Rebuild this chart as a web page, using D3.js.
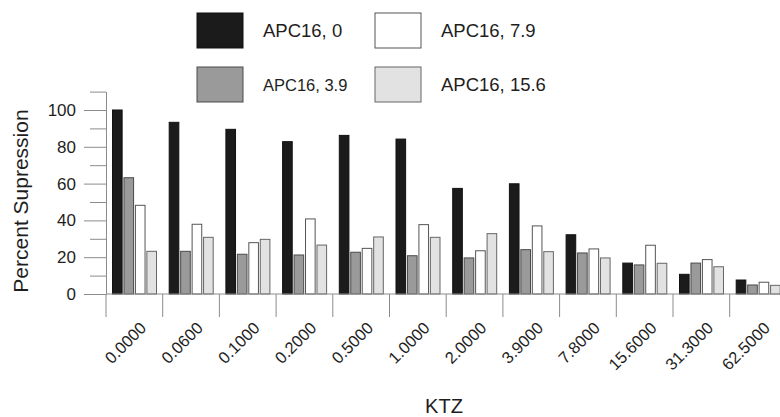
<!DOCTYPE html>
<html>
<head>
<meta charset="utf-8">
<script src="https://cdn.jsdelivr.net/npm/d3@7"></script>
<style>
  body { margin: 0; background: #fff; }
  svg { display: block; font-family: Arial, "Liberation Sans", sans-serif; }
</style>
</head>
<body>
<script>
// data
var categories = ["0.0000", "0.0600", "0.1000", "0.2000", "0.5000", "1.0000",
                  "2.0000", "3.9000", "7.8000", "15.6000", "31.3000", "62.5000"];
var seriesNames = ["APC16, 0", "APC16, 3.9", "APC16, 7.9", "APC16, 15.6"];
var apc0   = [100, 93.3, 89.5, 82.8, 86.2, 84.2, 57.4, 59.9, 32.2, 16.8, 10.7, 7.6];
var apc3_9 = [63.2, 23.2, 21.6, 21.2, 22.7, 20.8, 19.6, 24.1, 22.3, 15.8, 16.8, 4.9];
var apc7_9 = [48.2, 37.9, 27.9, 40.8, 24.8, 37.7, 23.5, 37.0, 24.5, 26.5, 18.7, 6.4];
var apc15_6 = [23.2, 30.8, 29.7, 26.6, 31.0, 30.8, 32.8, 23.0, 19.6, 16.7, 14.8, 4.7];
var yTicks = [0, 20, 40, 60, 80, 100];
var yMinorTicks = [10, 30, 50, 70, 90, 110];

var seriesValues = [apc0, apc3_9, apc7_9, apc15_6];
var fills = ["#1b1b1b", "#9a9a9a", "#ffffff", "#e2e2e2"];
var strokes = ["#111", "#4a4a4a", "#555", "#666"];

var width = 780, height = 417;
var axisColor = "#8c8c8c", textColor = "#1e1e1e";

var svg = d3.select("body").append("svg")
    .attr("width", width)
    .attr("height", height);

// scales
var y = d3.scaleLinear().domain([0, 110]).range([294, 91.6]);
var x0 = d3.scaleBand().domain(categories).range([106, 106 + 12 * 56.7]);
var x1 = d3.scaleBand().domain(seriesNames).range([6.5, 50.5]).paddingInner(0.16);

// bars
var groups = svg.selectAll(".grp")
    .data(categories)
    .enter().append("g")
    .attr("class", "grp")
    .attr("transform", function(c) { return "translate(" + x0(c) + ",0)"; });

groups.selectAll("rect")
    .data(function(c, i) {
      return seriesNames.map(function(s, j) { return {s: s, j: j, v: seriesValues[j][i]}; });
    })
    .enter().append("rect")
    .attr("x", function(d) { return x1(d.s); })
    .attr("y", function(d) { return y(d.v); })
    .attr("width", x1.bandwidth())
    .attr("height", function(d) { return y(0) - y(d.v); })
    .attr("fill", function(d) { return fills[d.j]; })
    .attr("stroke", function(d) { return strokes[d.j]; })
    .attr("stroke-width", 1);

// y axis (major + minor ticks)
var yAxis = svg.append("g")
    .attr("transform", "translate(106,0)")
    .call(d3.axisLeft(y).tickValues(yTicks).tickSize(22).tickSizeOuter(0).tickPadding(8));
svg.append("g")
    .attr("transform", "translate(106,0)")
    .call(d3.axisLeft(y).tickValues(yMinorTicks).tickSize(16).tickSizeOuter(0).tickFormat(""));

svg.selectAll(".domain, .tick line").attr("stroke", axisColor);
yAxis.selectAll("text")
    .attr("fill", textColor)
    .style("font-size", "17px");

// x axis baseline and category boundary ticks
svg.append("line")
    .attr("x1", 106).attr("x2", width)
    .attr("y1", y(0)).attr("y2", y(0))
    .attr("stroke", axisColor);

svg.selectAll(".xtick")
    .data(categories)
    .enter().append("line")
    .attr("class", "xtick")
    .attr("x1", function(c) { return x0(c); })
    .attr("x2", function(c) { return x0(c); })
    .attr("y1", y(0))
    .attr("y2", 317)
    .attr("stroke", axisColor);

// rotated category labels
svg.selectAll(".xlab")
    .data(categories)
    .enter().append("text")
    .attr("class", "xlab")
    .attr("transform", function(c) {
      return "translate(" + (x0(c) + x0.bandwidth() / 2 + 13) + ",329) rotate(-45)";
    })
    .attr("text-anchor", "end")
    .attr("fill", textColor)
    .style("font-size", "16.5px")
    .text(function(c) { return c; });

// axis titles
svg.append("text")
    .attr("x", 444)
    .attr("y", 413)
    .attr("text-anchor", "middle")
    .attr("fill", textColor)
    .style("font-size", "20px")
    .text("KTZ");

svg.append("text")
    .attr("transform", "translate(28,201) rotate(-90)")
    .attr("text-anchor", "middle")
    .attr("fill", textColor)
    .style("font-size", "21px")
    .text("Percent Supression");

// legend, two columns
var legendPos = [[197, 13], [197, 67], [375, 13], [375, 67]];
var legendFont = [18.5, 16.5, 18.5, 18.5];

var legend = svg.selectAll(".leg")
    .data(seriesNames)
    .enter().append("g")
    .attr("class", "leg")
    .attr("transform", function(s, i) { return "translate(" + legendPos[i][0] + "," + legendPos[i][1] + ")"; });

legend.append("rect")
    .attr("width", 46)
    .attr("height", 35)
    .attr("fill", function(s, i) { return fills[i]; })
    .attr("stroke", function(s, i) { return strokes[i]; });

legend.append("text")
    .attr("x", 66)
    .attr("y", 18)
    .attr("dy", "0.35em")
    .attr("fill", textColor)
    .style("font-size", function(s, i) { return legendFont[i] + "px"; })
    .text(function(s) { return s; });
</script>
</body>
</html>
